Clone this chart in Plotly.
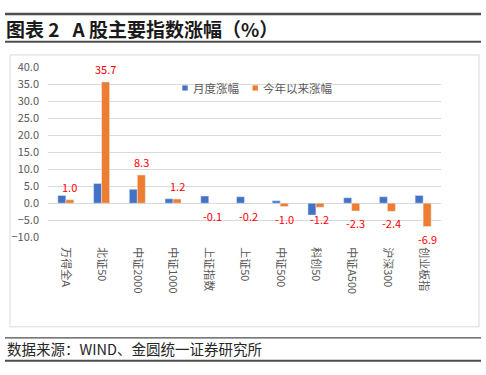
import plotly.graph_objects as go

categories = ["万得全A", "北证50", "中证2000", "中证1000", "上证指数", "上证50",
              "中证500", "科创50", "中证A500", "沪深300", "创业板指"]
monthly = [2.3, 5.8, 4.1, 1.3, 2.1, 1.9, 0.7, -3.5, 1.6, 1.9, 2.3]
ytd = [1.0, 35.7, 8.3, 1.2, -0.1, -0.2, -1.0, -1.2, -2.3, -2.4, -6.9]
series_names = ["月度涨幅", "今年以来涨幅"]
y_ticks = [-10, -5, 0, 5, 10, 15, 20, 25, 30, 35, 40]

W, H = 486, 375
BLUE = "#4472C4"
ORANGE = "#ED7D31"
GREY_TXT = "#595959"
GRID = "#D9D9D9"
FONT = "Noto Sans CJK SC"
BARGAP = 0.552

def px(x):
    return x / W

def py(y):
    return 1 - y / H

fig = go.Figure()
idx = list(range(len(categories)))
fig.add_trace(go.Bar(x=idx, y=monthly, name=series_names[0], marker_color=BLUE,
                     showlegend=False))
fig.add_trace(go.Bar(x=idx, y=ytd, name=series_names[1], marker_color=ORANGE,
                     showlegend=False))

annotations = []
# data labels for the YTD series, centred on the orange bars
for i, v in enumerate(ytd):
    annotations.append(dict(
        x=i + (1 - BARGAP) / 4, y=v, xref="x", yref="y",
        text=f"{v:.1f}", showarrow=False,
        yshift=13 if v >= 0 else -12, yanchor="middle", xanchor="center",
        font=dict(family=FONT, size=11, color="#FF0000")))

# title
annotations.append(dict(x=px(4), y=py(20), xref="paper", yref="paper",
                        text="<b>图表 2   A 股主要指数涨幅（%）</b>", showarrow=False,
                        xanchor="left", yanchor="middle",
                        font=dict(family=FONT, size=19, color="#1a1a1a")))
# footer
annotations.append(dict(x=px(5), y=py(355), xref="paper", yref="paper",
                        text="数据来源：WIND、金圆统一证券研究所", showarrow=False,
                        xanchor="left", yanchor="middle",
                        font=dict(family=FONT, size=14.5, color="#262626")))
# legend text
annotations.append(dict(x=px(191), y=py(82.5), xref="paper", yref="paper",
                        text=series_names[0], showarrow=False, xanchor="left",
                        yanchor="middle", font=dict(family=FONT, size=11.5, color=GREY_TXT)))
annotations.append(dict(x=px(261), y=py(82.5), xref="paper", yref="paper",
                        text=series_names[1], showarrow=False, xanchor="left",
                        yanchor="middle", font=dict(family=FONT, size=11.5, color=GREY_TXT)))

shapes = [
    # chart frame
    dict(type="rect", xref="paper", yref="paper", x0=px(10), x1=px(479), y0=py(332), y1=py(48),
         line=dict(color=GRID, width=1), fillcolor="rgba(0,0,0,0)", layer="below"),
    # title rules
    dict(type="line", xref="paper", yref="paper", x0=px(5), x1=px(481), y0=py(5.3), y1=py(5.3),
         line=dict(color="#4d4d4d", width=2.5)),
    dict(type="line", xref="paper", yref="paper", x0=px(5), x1=px(481), y0=py(34.3), y1=py(34.3),
         line=dict(color="#4d4d4d", width=2)),
    # footer rules
    dict(type="line", xref="paper", yref="paper", x0=px(5), x1=px(481), y0=py(343.5), y1=py(343.5),
         line=dict(color="#4d4d4d", width=1.3)),
    dict(type="line", xref="paper", yref="paper", x0=px(5), x1=px(481), y0=py(367.5), y1=py(367.5),
         line=dict(color="#4d4d4d", width=2)),
    # legend swatches
    dict(type="rect", xref="paper", yref="paper", x0=px(182.3), x1=px(187.7), y0=py(85.2), y1=py(79.8),
         fillcolor=BLUE, line=dict(width=0)),
    dict(type="rect", xref="paper", yref="paper", x0=px(252.5), x1=px(257.9), y0=py(85.2), y1=py(79.8),
         fillcolor=ORANGE, line=dict(width=0)),
]

fig.update_layout(
    width=W, height=H,
    margin=dict(l=0, r=0, t=0, b=0),
    paper_bgcolor="white", plot_bgcolor="white",
    barmode="group", bargap=BARGAP, bargroupgap=0,
    font=dict(family=FONT, color=GREY_TXT),
    annotations=annotations, shapes=shapes,
    xaxis=dict(domain=[px(48), px(441)], range=[-0.5, len(categories) - 0.5],
               tickmode="array", tickvals=idx, ticktext=categories,
               tickangle=90, showgrid=False, zeroline=False, showline=False,
               ticks="", ticklabelstandoff=9, anchor="y",
               tickfont=dict(family=FONT, size=11, color=GREY_TXT)),
    yaxis=dict(domain=[py(238.3), py(61)], range=[-10, 40],
               tickmode="array", tickvals=y_ticks, tickformat=".1f",
               showgrid=True, gridcolor=GRID, gridwidth=1,
               zeroline=True, zerolinecolor=GRID, zerolinewidth=1,
               showline=False, ticks="", ticklabelstandoff=8,
               tickfont=dict(family=FONT, size=11, color=GREY_TXT)),
)

fig.write_html("out.html", config={"displayModeBar": False},
               post_script="document.body.style.margin='0px';")
